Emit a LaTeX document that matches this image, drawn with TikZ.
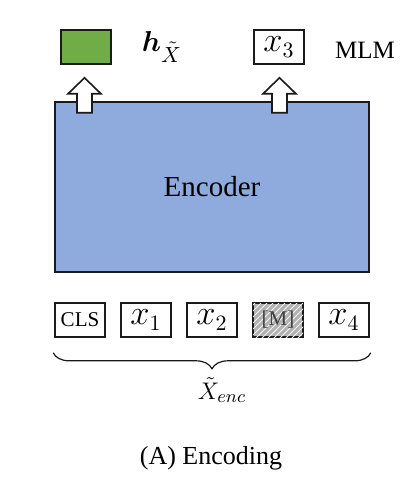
\documentclass[tikz,border=0pt]{standalone}
\usepackage{amsmath,amssymb}
\usepackage{fontspec}
\setmainfont{Liberation Serif}
\usepackage{xcolor}
\usepackage{tikz}
\usetikzlibrary{positioning,calc,patterns,decorations.pathreplacing}
\definecolor{encodercolor}{HTML}{8FAADC}
\definecolor{hiddencolor}{HTML}{70AD47}
\definecolor{ink}{HTML}{1A1A1A}
\tikzset{
  encbox/.style={
    draw=ink,
    line width=0.8pt,
    fill=encodercolor,
    minimum width=157pt,
    minimum height=85pt,
    font=\fontsize{14.5}{16}\selectfont
  },
  tokenbox/.style={
    draw=ink,
    line width=0.8pt,
    fill=white,
    minimum width=25pt,
    minimum height=17pt,
    inner sep=0pt,
    font=\fontsize{16}{18}\selectfont
  },
  maskbox/.style={
    tokenbox,
    fill=black!30,
    postaction={pattern=north east lines, pattern color=black!5},
    text=black!75
  },
  hiddenbox/.style={
    tokenbox,
    fill=hiddencolor
  },
  plainlabel/.style={inner sep=0pt},
  blockarrow/.style={draw=ink, line width=0.8pt, fill=white, line join=miter},
  bracedeco/.style={decorate, decoration={brace, mirror, amplitude=8pt}, draw=ink, line width=0.6pt}
}
\begin{document}
\begin{tikzpicture}[x=0.5pt, y=-0.5pt, node distance=7.2pt]
  \useasboundingbox (0,0) rectangle (404,492);
  % encoder
  \node[encbox] (enc) at (212,187) {Encoder};
  % outputs
  \node[hiddenbox] (hvec) at (86,47) {};
  \node[plainlabel, font=\fontsize{15}{17}\selectfont] (hlab) at (162,47) {$\boldsymbol{h}_{\tilde{X}}$};
  \node[tokenbox] (xthree) at (279,47) {$x_3$};
  \node[plainlabel, font=\fontsize{12.5}{14}\selectfont] (mlm) at (365,50) {MLM};
  % input tokens
  \node[tokenbox, font=\fontsize{10.5}{12}\selectfont] (cls) at (80,320) {CLS};
  \node[tokenbox, right=of cls] (xone) {$x_1$};
  \node[tokenbox, right=of xone] (xtwo) {$x_2$};
  \node[maskbox, right=of xtwo, font=\fontsize{10.5}{12}\selectfont] (mask) {[M]};
  \node[tokenbox, right=of mask] (xfour) {$x_4$};
  % block arrows
  \coordinate (tipL) at ($(hvec.south)+(-1.5,13)$);
  \coordinate (tipR) at ($(xthree.south)+(0.5,13)$);
  \draw[blockarrow] (tipL) -- ++(16.5,16) -- ++(-9,0) -- ++(0,19) -- ++(-15,0) -- ++(0,-19) -- ++(-9,0) -- cycle;
  \draw[blockarrow] (tipR) -- ++(16.5,16) -- ++(-9,0) -- ++(0,19) -- ++(-15,0) -- ++(0,-19) -- ++(-9,0) -- cycle;
  % brace under the input
  \coordinate (braceL) at ($(cls.south west)+(-1,15)$);
  \coordinate (braceR) at ($(xfour.south east)+(1,15)$);
  \draw[bracedeco] (braceL) -- (braceR);
  \node[plainlabel, font=\fontsize{12.5}{14}\selectfont] (xenc) at (222,390) {$\tilde{X}_{enc}$};
  % caption
  \node[plainlabel, font=\fontsize{13}{15}\selectfont] (caption) at (211,458) {(A) Encoding};
\end{tikzpicture}
\end{document}
